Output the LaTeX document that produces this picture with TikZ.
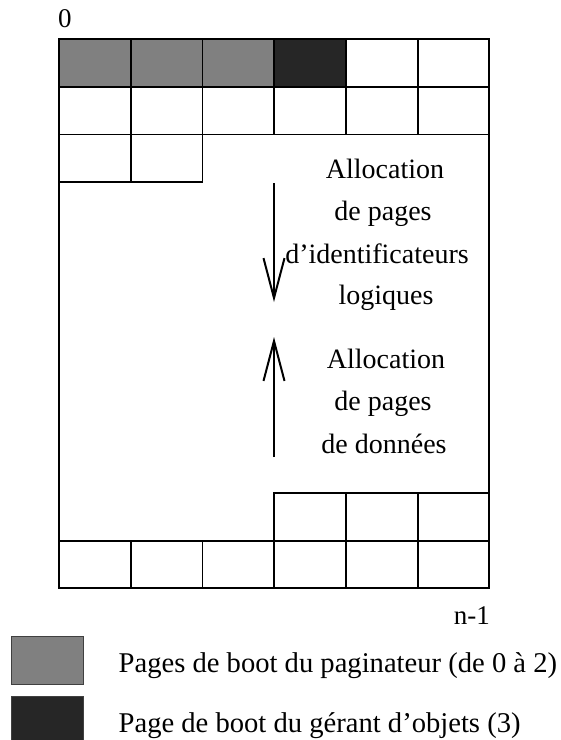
\documentclass[tikz,border=0pt]{standalone}
\usepackage{fontspec}
\setmainfont{Liberation Serif}
\usetikzlibrary{arrows.meta}

\definecolor{bootgray}{RGB}{128,128,128}
\definecolor{bootdark}{RGB}{38,38,38}

\tikzset{
  cell/.style={draw=black, line width=1.8pt, inner sep=0pt, outer sep=0pt,
    anchor=north west, minimum width=71.72pt},
  label/.style={font=\fontsize{27}{32}\selectfont, inner sep=0pt},
  alloctext/.style={font=\fontsize{28}{32}\selectfont, inner sep=0pt, anchor=base},
  legendtext/.style={font=\fontsize{28.6}{32}\selectfont, inner sep=0pt, anchor=base west},
  legendbox/.style={draw=black!75, line width=1pt, inner sep=0pt, outer sep=0pt,
    anchor=north west, minimum width=72pt, minimum height=48pt},
  allocarrow/.style={line width=2pt, -{Straight Barb[length=40pt, width=21pt]}},
}

\begin{document}
\begin{tikzpicture}[x=1pt, y=-1pt]
  \path[use as bounding box, clip] (0,0) rectangle (561,740);
  \fill[white] (0,0) rectangle (561,740);

  % page table: outer frame
  \node[cell, minimum width=430.32pt, minimum height=549.3pt] (frame) at (59,39) {};

  % first row: boot pages of the pager (0..2) and the object manager (3)
  \foreach \c in {0,...,5} {
    \pgfmathsetmacro{\xx}{59+71.72*\c}
    \ifnum\c<3
      \node[cell, fill=bootgray, minimum height=48.3pt] (a\c) at (\xx,39) {};
    \else\ifnum\c=3
      \node[cell, fill=bootdark, minimum height=48.3pt] (a\c) at (\xx,39) {};
    \else
      \node[cell, minimum height=48.3pt] (a\c) at (\xx,39) {};
    \fi\fi
    \node[cell, minimum height=47.2pt] (b\c) at (\xx,87.3) {};
    \node[cell, minimum height=47.6pt] (e\c) at (\xx,540.7) {};
  }
  \foreach \c in {0,1} {
    \pgfmathsetmacro{\xx}{59+71.72*\c}
    \node[cell, minimum height=47.5pt] (c\c) at (\xx,134.5) {};
  }
  \foreach \c in {3,4,5} {
    \pgfmathsetmacro{\xx}{59+71.72*\c}
    \node[cell, minimum height=48pt] (d\c) at (\xx,492.7) {};
  }

  % page numbers
  \node[label, anchor=base west] (first) at (58,27.3) {0};
  \node[label, anchor=base east] (last) at (490,624) {n-1};

  % allocation directions
  \coordinate (dtop) at (274,183);
  \coordinate (dtip) at (274,302);
  \coordinate (ubot) at (274,457);
  \coordinate (utip) at (274,337);
  \draw[allocarrow] (dtop) -- (dtip);
  \draw[allocarrow] (ubot) -- (utip);

  \node[alloctext] (l1) at (385,178) {Allocation};
  \node[alloctext] (l2) at (383,220.5) {de pages};
  \node[alloctext] (l3) at (377,263) {d’identificateurs};
  \node[alloctext] (l4) at (386,304) {logiques};

  \node[alloctext] (r1) at (386,368) {Allocation};
  \node[alloctext] (r2) at (383,410.5) {de pages};
  \node[alloctext] (r3) at (384,453) {de données};

  % legend
  \node[legendbox, fill=bootgray] (k1) at (11,636) {};
  \node[legendbox, fill=bootdark] (k2) at (11,696) {};
  \node[legendtext] (t1) at (118.5,672) {Pages de boot du paginateur (de 0 à 2)};
  \node[legendtext] (t2) at (118.5,732) {Page de boot du gérant d’objets (3)};
\end{tikzpicture}
\end{document}
